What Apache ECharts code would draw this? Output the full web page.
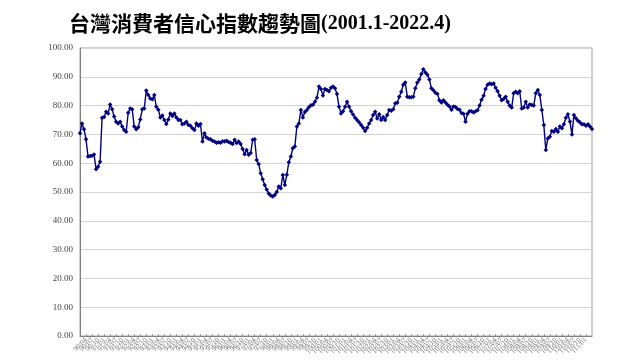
<!DOCTYPE html>
<html>
<head>
<meta charset="utf-8">
<script src="https://cdn.jsdelivr.net/npm/echarts@6/dist/echarts.min.js"></script>
<style>html,body{margin:0;padding:0;background:#fff}#c{width:640px;height:360px}</style>
</head>
<body>
<div id="c"></div>
<script>
// ROC years (民國) 90 = 2001 ... 111 = 2022
const rocYears = [90,91,92,93,94,95,96,97,98,99,100,101,102,103,104,105,106,107,108,109,110,111];
const lastYearMonths = 4;
// tick labels on the y axis
const yTicks = [0,10,20,30,40,50,60,70,80,90,100];
const titleMain = '台灣消費者信心指數趨勢圖';
const titleRange = '(2001.1-2022.4)';
// monthly consumer confidence index 2001.1 - 2022.4
const cci2001_2004 = [70.4,73.8,71.8,68.3,62.3,62.5,62.6,63.0,57.9,58.8,60.5,75.8,
  76.0,77.9,77.3,80.4,78.7,76.2,74.4,73.8,74.4,72.7,71.5,70.9,
  77.5,79.0,78.7,72.7,71.8,72.5,75.2,78.7,79.0,85.2,83.7,82.5,
  82.2,83.7,79.6,78.6,75.9,76.6,75.0,73.6,75.2,77.3,76.4,77.3];
const cci2005_2008 = [75.9,75.0,75.0,73.5,73.8,74.4,73.3,73.0,72.1,71.5,73.8,73.0,
  73.6,67.5,70.4,68.9,68.5,68.3,67.8,67.5,67.1,67.3,67.1,67.6,
  67.5,67.8,67.4,67.1,66.7,68.1,67.0,67.5,66.7,64.9,63.1,64.6,
  62.9,63.5,68.1,68.3,61.1,59.7,56.5,54.4,52.4,50.9,49.5,48.8];
const cci2009_2012 = [48.4,49.0,50.0,51.9,51.3,55.9,52.4,56.0,60.3,62.3,65.2,65.8,
  72.7,73.8,78.5,75.9,77.8,78.5,79.4,80.1,80.3,81.3,82.7,86.6,
  85.8,83.5,85.8,85.4,85.0,86.2,86.6,86.0,84.0,79.6,77.3,78.0,
  79.6,81.3,79.6,78.0,76.9,75.8,75.0,74.2,73.3,72.3,71.2,72.3];
const cci2013_2016 = [73.8,75.0,76.7,77.9,75.5,77.0,75.0,76.0,75.0,76.7,78.5,78.2,
  78.7,80.8,81.0,83.1,84.8,87.2,88.0,83.1,82.9,82.9,83.1,86.0,
  88.0,89.1,91.0,92.6,91.5,90.7,89.1,86.0,85.3,84.5,84.1,81.9,
  81.1,81.9,81.1,80.3,79.7,78.6,79.7,79.5,78.8,78.6,77.4,77.2];
const cci2017_2020 = [74.4,77.2,78.0,78.0,77.6,78.0,78.4,80.0,82.0,83.4,85.8,87.2,
  87.7,87.4,87.7,86.2,85.0,83.4,81.9,82.3,83.1,81.3,80.0,79.3,
  84.3,84.8,84.3,85.0,79.0,79.3,81.3,79.3,80.4,80.2,80.0,84.3,
  85.4,83.7,78.5,73.3,64.6,68.6,69.2,71.2,70.9,71.9,70.9,72.7];
const cci2021_2022 = [72.1,73.5,75.8,77.0,74.5,70.0,76.7,75.6,74.7,74.2,73.5,73.5,
  73.0,73.5,72.7,71.9];

const values = [].concat(cci2001_2004, cci2005_2008, cci2009_2012, cci2013_2016, cci2017_2020, cci2021_2022);
const categories = [];
rocYears.forEach((y, k) => {
  const n = (k === rocYears.length - 1) ? lastYearMonths : 12;
  for (let m = 1; m <= n; m++) categories.push(y + '/' + (m < 10 ? '0' + m : m));
});

const chart = echarts.init(document.getElementById('c'), null, {renderer: 'canvas'});
chart.setOption({
  animation: false,
  backgroundColor: '#ffffff',
  title: {
    text: '{a|' + titleMain + '}{b|' + titleRange + '}',
    left: 64, top: 8,
    textStyle: {
      rich: {
        a: {fontFamily: '"Noto Sans CJK TC", sans-serif', fontSize: 21, fontWeight: 'bold', color: '#000'},
        b: {fontFamily: '"Liberation Serif", serif', fontSize: 20, fontWeight: 'bold', color: '#000'}
      }
    }
  },
  grid: {left: 80, right: 48, top: 48, bottom: 24, show: true, borderColor: '#a0a0a0', borderWidth: 1},
  xAxis: {
    type: 'category', data: categories, boundaryGap: false,
    axisLine: {lineStyle: {color: '#808080', width: 1}},
    axisTick: {inside: true, length: 2, interval: 2, lineStyle: {color: '#a0a0a0'}},
    axisLabel: {interval: 2, rotate: 45, fontSize: 7, color: '#777', margin: 3, fontFamily: '"Liberation Serif", serif'},
    splitLine: {show: false}
  },
  yAxis: {
    type: 'value', min: yTicks[0], max: yTicks[yTicks.length - 1], interval: 10,
    axisLine: {show: true, lineStyle: {color: '#808080'}},
    axisTick: {show: false},
    axisLabel: {formatter: v => v.toFixed(2), fontSize: 9, color: '#444', margin: 7, fontFamily: '"Liberation Serif", serif'},
    splitLine: {lineStyle: {color: '#d4d4d4', width: 1}}
  },
  series: [{
    type: 'line', data: values,
    showAllSymbol: true, symbol: 'diamond', symbolSize: 4.5,
    lineStyle: {color: '#000080', width: 1.4},
    itemStyle: {color: '#000080'}
  }]
});
</script>
</body>
</html>
